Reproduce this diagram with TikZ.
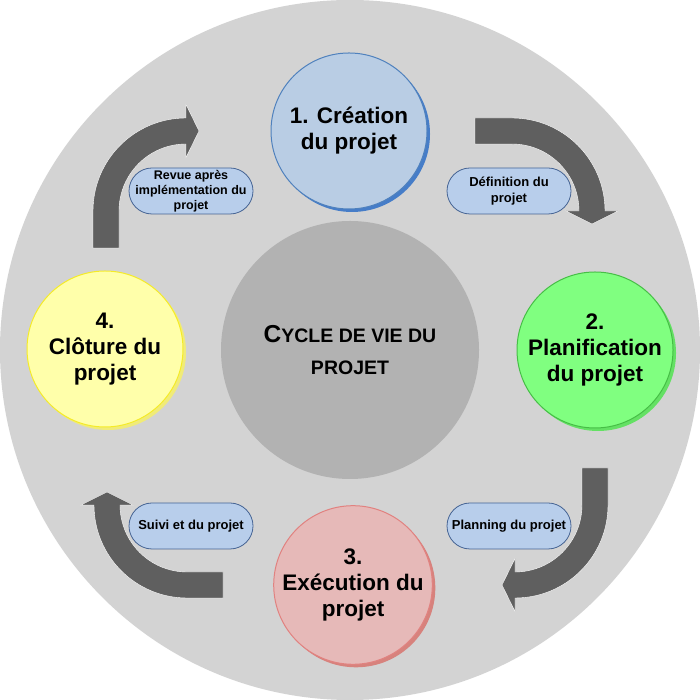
\documentclass[tikz,border=0pt]{standalone}
\usepackage{fontspec}
\setmainfont{Liberation Sans}
\usetikzlibrary{shadows}
\definecolor{outergray}{RGB}{211,211,211}
\definecolor{centergray}{RGB}{178,178,178}
\definecolor{cafill}{RGB}{185,205,228}
\definecolor{caborder}{RGB}{79,129,189}
\definecolor{cashadow}{RGB}{70,125,200}
\definecolor{cbfill}{RGB}{128,255,128}
\definecolor{cbborder}{RGB}{70,190,70}
\definecolor{cbshadow}{RGB}{100,225,100}
\definecolor{ccfill}{RGB}{230,185,184}
\definecolor{ccborder}{RGB}{225,130,128}
\definecolor{ccshadow}{RGB}{215,130,125}
\definecolor{cdfill}{RGB}{255,255,170}
\definecolor{cdborder}{RGB}{245,235,40}
\definecolor{cdshadow}{RGB}{240,235,120}
\definecolor{lblue}{RGB}{184,206,235}
\definecolor{pillborder}{RGB}{70,100,148}
\definecolor{arrowgray}{RGB}{95,95,95}
\begin{document}
\begin{tikzpicture}[x=1pt,y=1pt,
  phase/.style={circle, minimum size=156pt, inner sep=0pt, align=center,
    font=\bfseries\fontsize{22.5}{26}\selectfont, line width=1pt},
  pill/.style={rounded corners=23pt, minimum width=124pt, minimum height=46pt,
    inner sep=0pt, align=center, fill=lblue, draw=pillborder, line width=0.8pt,
    font=\bfseries\fontsize{13}{16}\selectfont},
  bigarrow/.style={fill=arrowgray, draw=white, line width=0.4pt}]
\useasboundingbox (0,0) rectangle (700,700);
\fill[outergray] (350,350) circle (350);

% center
\node[circle, fill=centergray, minimum size=258pt, inner sep=0pt, align=center,
  font=\bfseries\fontsize{19.5}{32}\selectfont] (center) at (350,350)
  {{\fontsize{24.5}{32}\selectfont C}YCLE DE VIE DU\\PROJET};

% phases
\node[phase, fill=cafill, draw=caborder,
  drop shadow={fill=cashadow, opacity=1, shadow xshift=3pt, shadow yshift=-3pt}]
  (p1) at (349,569) {1. Création\\du projet};
\node[phase, fill=cbfill, draw=cbborder,
  drop shadow={fill=cbshadow, opacity=1, shadow xshift=3pt, shadow yshift=-3pt}]
  (p2) at (595,350) {2.\\Planification\\du projet};
\node[phase, fill=ccfill, draw=ccborder,
  drop shadow={fill=ccshadow, opacity=1, shadow xshift=3pt, shadow yshift=-3pt}]
  (p3) at (353,115) {3.\\Exécution du\\projet};
\node[phase, fill=cdfill, draw=cdborder,
  drop shadow={fill=cdshadow, opacity=1, shadow xshift=3pt, shadow yshift=-3pt}]
  (p4) at (105,351) {4.\\Clôture du\\projet};

% arrows
\fill[bigarrow] (93,452) -- (93,489) arc[start angle=180,end angle=90,radius=93]
  -- (186,595.5) -- (199,569) -- (186,542.5) -- (186,556)
  arc[start angle=90,end angle=180,radius=67] -- (119,452) -- cycle;
\fill[bigarrow] (475,582) -- (512,582) arc[start angle=90,end angle=0,radius=93]
  -- (618,489) -- (592,476) -- (566,489) -- (579,489)
  arc[start angle=0,end angle=90,radius=67] -- (475,556) -- cycle;
\fill[bigarrow] (608,232) -- (608,195) arc[start angle=0,end angle=-90,radius=93]
  -- (515,88.5) -- (502,115) -- (515,141.5) -- (515,128)
  arc[start angle=-90,end angle=0,radius=67] -- (582,232) -- cycle;
\fill[bigarrow] (223,102) -- (187,102) arc[start angle=-90,end angle=-180,radius=93]
  -- (81,195) -- (107,208) -- (133,195) -- (120,195)
  arc[start angle=180,end angle=270,radius=67] -- (223,128) -- cycle;

% labels
\node[pill, font=\bfseries\fontsize{12.5}{15}\selectfont] (l1) at (191,509) {Revue après\\implémentation du\\projet};
\node[pill] (l2) at (509,509) {Définition du\\projet};
\node[pill] (l3) at (509,174) {Planning du projet};
\node[pill] (l4) at (191,174) {Suivi et du projet};
\end{tikzpicture}
\end{document}
